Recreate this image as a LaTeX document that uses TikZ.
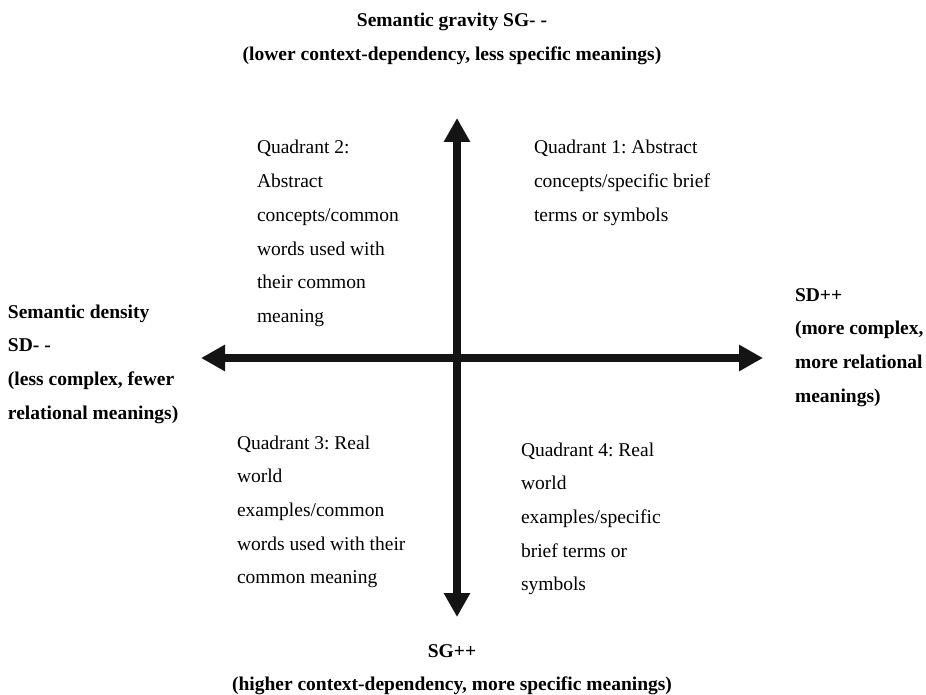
\documentclass[tikz,border=0pt]{standalone}
\usepackage{fontspec}
\setmainfont{Liberation Serif}
\usetikzlibrary{arrows.meta}
\frenchspacing
\newcommand{\qfont}{\fontsize{19.5}{33.7}\selectfont\frenchspacing}
\tikzset{
  axis/.style={line width=8.5pt, draw=black!92,
    {Triangle[length=24pt,width=25pt]}-{Triangle[length=24pt,width=25pt]}},
  lbl/.style={inner sep=0pt, outer sep=0pt, font=\qfont, text=black},
  blbl/.style={lbl, font=\qfont\bfseries}
}
\begin{document}
\begin{tikzpicture}[x=1pt,y=-1pt]
\useasboundingbox (0,0) rectangle (926,695);
% axes
\coordinate (top) at (457,118);
\coordinate (bot) at (457,617);
\coordinate (lft) at (201,358);
\coordinate (rgt) at (763,358);
\draw[axis] (bot) -- (top);
\draw[axis] (lft) -- (rgt);
% titles
\node[blbl, anchor=base] (sgminus) at (452,27)
  {\begin{tabular}[t]{@{}c@{}}Semantic gravity SG- -\\(lower context-dependency, less specific meanings)\end{tabular}};
\node[blbl, anchor=base] (sgplus) at (452,657)
  {\begin{tabular}[t]{@{}c@{}}SG++\\(higher context-dependency, more specific meanings)\end{tabular}};
\node[blbl, anchor=base west] (sdminus) at (8,318)
  {\begin{tabular}[t]{@{}l@{}}Semantic density\\SD- -\\(less complex, fewer\\relational meanings)\end{tabular}};
\node[blbl, anchor=base west] (sdplus) at (795,301)
  {\begin{tabular}[t]{@{}l@{}}SD++\\(more complex,\\more relational\\meanings)\end{tabular}};
% quadrants
\node[lbl, anchor=base west] (q1) at (534,154)
  {\begin{tabular}[t]{@{}l@{}}Quadrant 1: Abstract\\concepts/specific brief\\terms or symbols\end{tabular}};
\node[lbl, anchor=base west] (q2) at (257,154)
  {\begin{tabular}[t]{@{}l@{}}Quadrant 2:\\Abstract\\concepts/common\\words used with\\their common\\meaning\end{tabular}};
\node[lbl, anchor=base west] (q3) at (237,449)
  {\begin{tabular}[t]{@{}l@{}}Quadrant 3: Real\\world\\examples/common\\words used with their\\common meaning\end{tabular}};
\node[lbl, anchor=base west] (q4) at (521,456)
  {\begin{tabular}[t]{@{}l@{}}Quadrant 4: Real\\world\\examples/specific\\brief terms or\\symbols\end{tabular}};
\end{tikzpicture}
\end{document}
